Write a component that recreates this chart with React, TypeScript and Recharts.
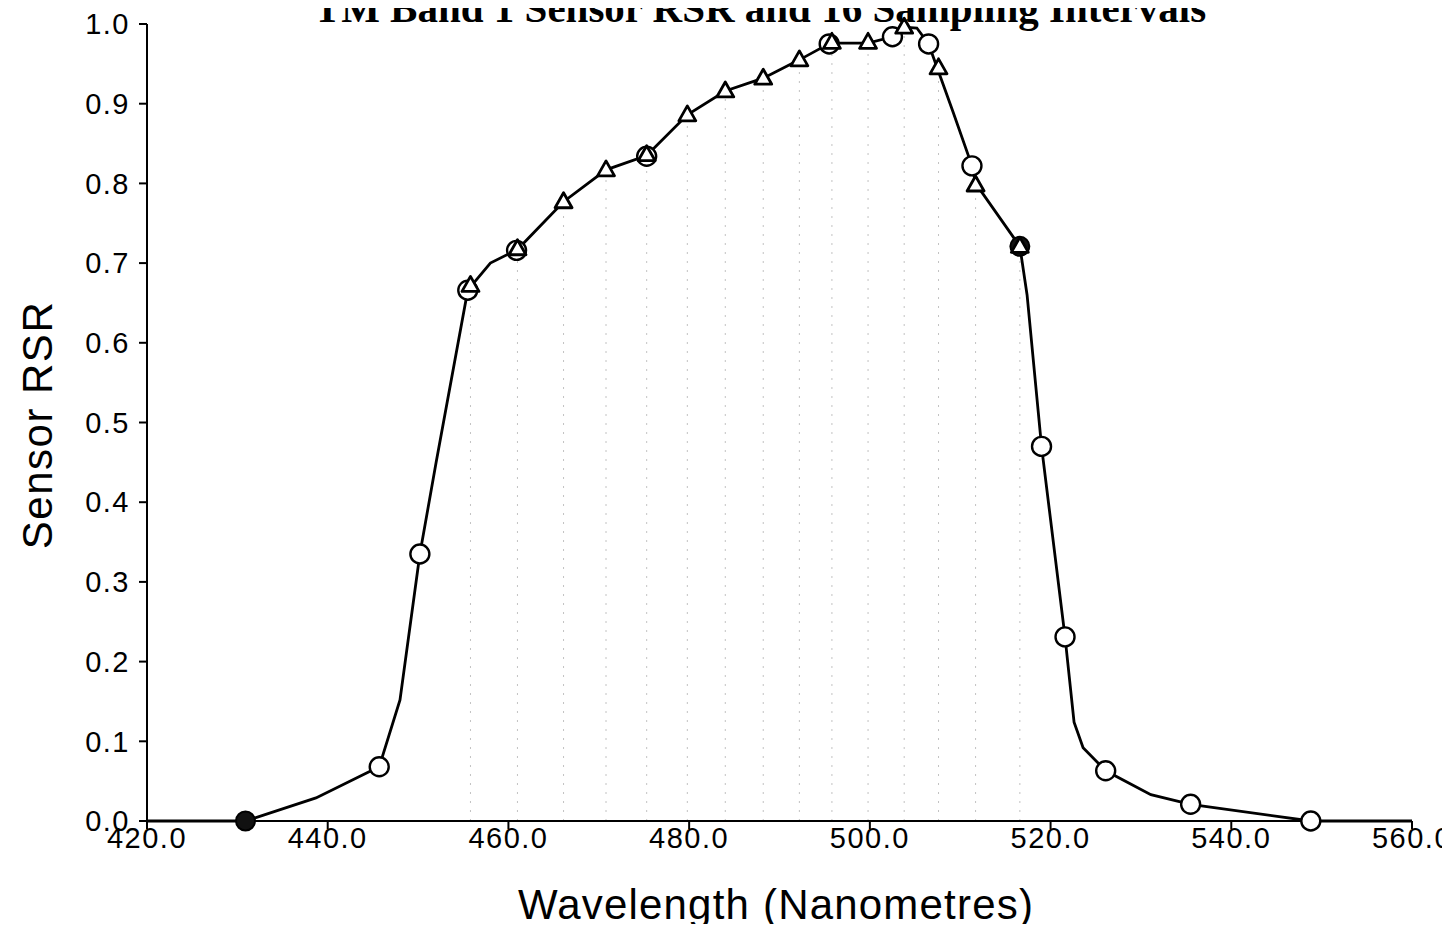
import React from "react";
import {
  ComposedChart,
  Line,
  Scatter,
  XAxis,
  YAxis,
  ReferenceLine,
} from "recharts";

// RSR curve vertices (wavelength nm, response)
const curveX = [
  420, 430.9, 438.7, 445.7, 448.0, 450.2, 452.0, 455.5, 458.0, 461.0, 466.1,
  470.8, 475.3, 479.8, 484.0, 488.2, 492.2, 495.6, 499.8, 502.5, 503.8, 505.2,
  506.5, 509.2, 511.3, 511.7, 516.6, 517.4, 519.0, 521.6, 522.6, 523.6, 526.1,
  531.1, 535.5, 548.8, 560,
];
const curveY = [
  0, 0, 0.029, 0.068, 0.152, 0.335, 0.45, 0.666, 0.7, 0.717, 0.777, 0.817,
  0.835, 0.886, 0.916, 0.932, 0.955, 0.976, 0.976, 0.984, 0.996, 0.995, 0.975,
  0.89, 0.822, 0.8, 0.721, 0.66, 0.47, 0.231, 0.124, 0.092, 0.063, 0.033, 0.021,
  0, 0,
];

// hollow circle samples
const circleX = [445.7, 450.2, 455.5, 460.9, 475.3, 495.5, 502.5, 506.5, 511.3, 519.0, 521.6, 526.1, 535.5, 548.8];
const circleY = [0.068, 0.335, 0.666, 0.716, 0.834, 0.975, 0.984, 0.975, 0.822, 0.47, 0.231, 0.063, 0.021, 0];

// filled circle samples
const dotX = [430.9, 516.6];
const dotY = [0, 0.721];

// triangle samples (16 sampling intervals)
const triX = [455.8, 461.0, 466.1, 470.8, 475.3, 479.8, 484.0, 488.2, 492.2, 495.8, 499.8, 503.8, 507.6, 511.7, 516.6];
const triY = [0.672, 0.718, 0.777, 0.817, 0.836, 0.886, 0.916, 0.932, 0.955, 0.977, 0.977, 0.996, 0.945, 0.798, 0.721];

const xTicks = [420, 440, 460, 480, 500, 520, 540, 560];
const yTicks = [0, 0.1, 0.2, 0.3, 0.4, 0.5, 0.6, 0.7, 0.8, 0.9, 1.0];

const zip = (xs: number[], ys: number[]) => xs.map((x, i) => ({ x, y: ys[i] }));
const curve = zip(curveX, curveY);
const circles = zip(circleX, circleY);
const dots = zip(dotX, dotY);
const tris = zip(triX, triY);

const sans = "'Liberation Sans', Arial, sans-serif";

const HollowCircle = (p: any) => (
  <circle cx={p.cx} cy={p.cy} r={9.5} fill="#fff" stroke="#000" strokeWidth={2.4} />
);
const FilledCircle = (p: any) => (
  <circle cx={p.cx} cy={p.cy} r={9.5} fill="#111" stroke="#000" strokeWidth={2} />
);
const Tri = (p: any) => (
  <polygon
    points={`${p.cx},${p.cy - 9} ${p.cx - 8.5},${p.cy + 6} ${p.cx + 8.5},${p.cy + 6}`}
    fill="#fff"
    stroke="#000"
    strokeWidth={2.8}
    strokeLinejoin="round"
  />
);

export default function App() {
  return (
    <div
      style={{
        position: "relative",
        margin: -8,
        width: 1450,
        height: 932,
        background: "#fff",
        overflow: "hidden",
      }}
    >
      <ComposedChart
        width={1450}
        height={932}
        margin={{ top: 24, right: 38, bottom: 51, left: 87 }}
      >
        <XAxis
          type="number"
          dataKey="x"
          domain={[420, 560]}
          ticks={xTicks}
          tickFormatter={(v: number) => v.toFixed(1)}
          allowDataOverflow
          height={60}
          stroke="#000"
          strokeWidth={2}
          tickSize={8}
          tickMargin={-2}
          tick={{ fill: "#000", fontSize: 29, fontFamily: sans, letterSpacing: 1.5 }}
        />
        <YAxis
          type="number"
          dataKey="y"
          domain={[0, 1]}
          ticks={yTicks}
          tickFormatter={(v: number) => v.toFixed(1)}
          width={60}
          stroke="#000"
          strokeWidth={2}
          tickSize={8}
          tickMargin={9}
          tick={{ fill: "#000", fontSize: 29, fontFamily: sans, letterSpacing: 1.5 }}
        />
        {tris.map((t, i) => (
          <ReferenceLine
            key={i}
            segment={[{ x: t.x, y: 0 }, { x: t.x, y: t.y }]}
            stroke="#999"
            strokeWidth={1}
            strokeDasharray="2 7"
            strokeOpacity={0.6}
          />
        ))}
        <Line
          data={curve}
          dataKey="y"
          type="linear"
          stroke="#000"
          strokeWidth={2.8}
          dot={false}
          activeDot={false}
          isAnimationActive={false}
        />
        <Scatter data={circles} dataKey="y" shape={HollowCircle} isAnimationActive={false} />
        <Scatter data={dots} dataKey="y" shape={FilledCircle} isAnimationActive={false} />
        <Scatter data={tris} dataKey="y" shape={Tri} isAnimationActive={false} />
      </ComposedChart>

      <div
        style={{
          position: "absolute",
          left: 0,
          width: 1520,
          top: -12,
          textAlign: "center",
          fontFamily: "'Liberation Serif', 'Times New Roman', serif",
          fontWeight: "bold",
          fontSize: 41,
          lineHeight: "40px",
          whiteSpace: "nowrap",
        }}
      >
        TM Band 1 Sensor RSR and 16 Sampling Intervals
      </div>

      <div
        style={{
          position: "absolute",
          left: 38,
          top: 425,
          transform: "translate(-50%, -50%) rotate(-90deg)",
          fontFamily: sans,
          fontSize: 42,
          whiteSpace: "nowrap",
          letterSpacing: 1.5,
        }}
      >
        Sensor RSR
      </div>

      <div
        style={{
          position: "absolute",
          left: 776,
          top: 905,
          transform: "translate(-50%, -50%)",
          fontFamily: sans,
          fontSize: 42,
          whiteSpace: "nowrap",
          letterSpacing: 1.2,
        }}
      >
        Wavelength (Nanometres)
      </div>
    </div>
  );
}
